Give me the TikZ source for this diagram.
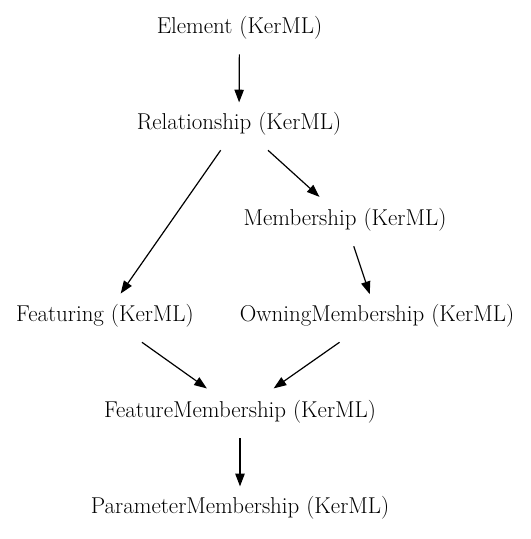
\documentclass[tikz,border=0pt]{standalone}
\usetikzlibrary{arrows.meta}
\begin{document}
\begin{tikzpicture}[x=0.75pt,y=-0.75pt,
  cls/.style={inner sep=0pt, minimum height=39pt, minimum width=20pt, font=\fontsize{17.2}{20}\selectfont},
  edge/.style={-{Triangle[length=9.5pt,width=7pt]}, line width=0.9pt, shorten >=-3.5pt}]
\useasboundingbox (0,0) rectangle (531,539);
\node[cls] (elem) at (239.5,28) {Element (KerML)};
\node[cls] (rel) at (239,124) {Relationship (KerML)};
\node[cls] (mem) at (345,220) {Membership (KerML)};
\node[cls] (feat) at (105,316) {Featuring (KerML)};
\node[cls] (own) at (377,316) {OwningMembership (KerML)};
\node[cls] (fm) at (240,412) {FeatureMembership (KerML)};
\node[cls] (pm) at (240,508) {ParameterMembership (KerML)};
\draw[edge] (elem) -- (rel);
\draw[edge] (rel) -- (mem);
\draw[edge] (rel) -- (feat);
\draw[edge] (mem) -- (own);
\draw[edge] (feat) -- (fm);
\draw[edge] (own) -- (fm);
\draw[edge] (fm) -- (pm);
\end{tikzpicture}
\end{document}
